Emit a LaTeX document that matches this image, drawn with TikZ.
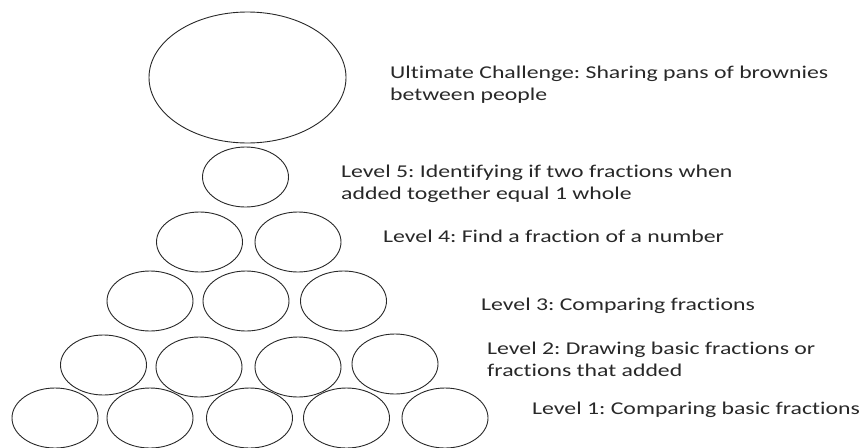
\documentclass[tikz,border=0pt]{standalone}
\usepackage{fontspec}
\setmainfont{Carlito}[FakeStretch=1.32, Ligatures=NoCommon]
\usepackage{tikz}
\usetikzlibrary{shapes.geometric,positioning}
\definecolor{inkgray}{RGB}{40,40,40}
\frenchspacing
\tikzset{
    bubble/.style    = {ellipse, draw=inkgray, line width=0.9pt,
            minimum width=86pt, minimum height=60pt, inner sep=0pt},
    bigbubble/.style = {bubble, minimum width=197pt, minimum height=131pt},
    lvltext/.style   = {anchor=west, align=left, inner sep=0pt, text=inkgray,
            font=\fontsize{18}{22}\selectfont},
}
\begin{document}
\begin{tikzpicture}[x=1pt, y=-1pt]
    \useasboundingbox (0,0) rectangle (861,447);
    % Bubbles
    \node[bigbubble] (ult) at (247.5,77.5) {};
    \node[bubble] (lvfive) at (245.5,177) {};
    \node[bubble] (lvfourA) at (199.5,242) {};
    \node[bubble] (lvfourB) at (298,242) {};
    \node[bubble] (lvthreeA) at (150,301) {};
    \node[bubble] (lvthreeB) at (246,301) {};
    \node[bubble] (lvthreeC) at (343.5,301) {};
    \node[bubble] (lvtwoA) at (103.5,365) {};
    \node[bubble] (lvtwoB) at (199,367) {};
    \node[bubble] (lvtwoC) at (298,367) {};
    \node[bubble] (lvtwoD) at (395,364) {};
    \node[bubble] (lvoneA) at (55,418) {};
    \node[bubble] (lvoneB) at (150,418) {};
    \node[bubble] (lvoneC) at (249.5,418) {};
    \node[bubble] (lvoneD) at (346.5,418) {};
    \node[bubble] (lvoneE) at (445,418) {};
    % Labels
    \node[lvltext] (ulttext) at (390,84.5) {Ultimate Challenge: Sharing pans of brownies\\between people};
    \node[lvltext] (fivetext) at (341,184) {Level 5: Identifying if two fractions when\\added together equal 1 whole};
    \node[lvltext] (fourtext) at (383,236) {Level 4: Find a fraction of a number};
    \node[lvltext] (threetext) at (481,306) {Level 3: Comparing fractions};
    \node[lvltext] (twotext) at (487,359.5) {Level 2: Drawing basic fractions or\\fractions that added};
    \node[lvltext] (onetext) at (532,410) {Level 1: Comparing basic fractions};
\end{tikzpicture}
\end{document}
